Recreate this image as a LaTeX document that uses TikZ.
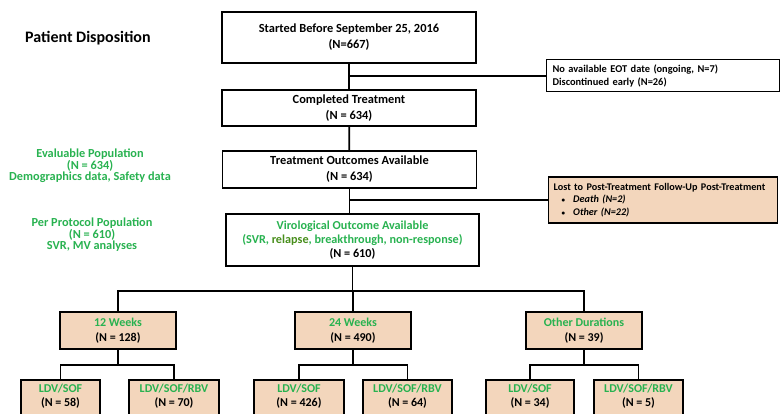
\documentclass[tikz,border=0pt]{standalone}
\usepackage{fontspec}
\setmainfont{Carlito}
\usetikzlibrary{positioning,calc}
\definecolor{cgreen}{RGB}{40,178,80}
\definecolor{cdark}{RGB}{72,142,28}
\definecolor{ctan}{RGB}{243,214,188}

\begin{document}
\begin{tikzpicture}[x=1pt,y=-1pt,line width=1.8pt,
  main/.style={draw,line width=1.8pt,minimum width=254pt,minimum height=37pt,inner sep=0pt,align=center,font=\fontsize{12.4}{16}\selectfont\bfseries},
  grp/.style={draw,fill=ctan,line width=1.8pt,minimum width=116pt,minimum height=37pt,inner sep=0pt,align=center,font=\fontsize{12}{15}\selectfont\bfseries},
  arm/.style={draw,fill=ctan,line width=1.8pt,anchor=north,inner xsep=0pt,inner ysep=4pt,text depth=24pt,align=center,font=\fontsize{12}{14}\selectfont\bfseries},
  note/.style={draw,anchor=west,inner xsep=6pt,inner ysep=0pt,align=left,font=\fontsize{10.4}{12.5}\selectfont\bfseries},
  pop/.style={text=cgreen,align=center,font=\fontsize{12.3}{11.5}\selectfont\bfseries}]
  \useasboundingbox (0,0) rectangle (780,414);
  \clip (0,0) rectangle (780,414);
  % title and analysis populations
  \node[anchor=west,font=\fontsize{16}{18}\selectfont\bfseries] (title) at (21,38) {Patient Disposition};
  \node[pop] (evalpop) at (90,166) {Evaluable Population\\(N = 634)\\Demographics data, Safety data};
  \node[pop] (pppop) at (92,235) {Per Protocol Population\\(N = 610)\\SVR, MV analyses};
  % main column
  \node[main,minimum height=51pt] (start) at (349,37.5) {Started Before September 25, 2016\\(N=667)};
  \node[main,minimum height=36pt] (compl) at (349,108) {Completed Treatment\\(N = 634)};
  \node[main] (outc) at (349.5,169.5) {Treatment Outcomes Available\\(N = 634)};
  \node[main,minimum width=253pt,minimum height=52pt,font=\fontsize{12.2}{14}\selectfont\bfseries] (viro) at (352.5,240)
    {\textcolor{cgreen}{Virological Outcome Available}\\\textcolor{cgreen}{(SVR, \textcolor{cdark}{relapse}, breakthrough, non-response)}\\(N = 610)};
  % exclusions
  \node[note,line width=1pt,text width=221pt,minimum height=32pt] (eot) at (546,76)
    {No available EOT date (ongoing, N=7)\\Discontinued early (N=26)};
  \node[note,fill=ctan,line width=1.4pt,inner xsep=5pt,text width=219pt,minimum height=46pt,font=\fontsize{10.2}{12.5}\selectfont\bfseries] (lost) at (548,200)
    {Lost to Post-Treatment Follow-Up Post-Treatment\\
     \hspace*{8pt}{\fontsize{7}{7}\selectfont\textbullet}\hspace{8pt}\textit{Death (N=2)}\\
     \hspace*{8pt}{\fontsize{7}{7}\selectfont\textbullet}\hspace{8pt}\textit{Other (N=22)}};
  % durations
  \node[grp] (g12) at (118,330.5) {\textcolor{cgreen}{12 Weeks}\\(N = 128)};
  \node[grp] (g24) at (353,330.5) {\textcolor{cgreen}{24 Weeks}\\(N = 490)};
  \node[grp] (goth) at (584,330.5) {\textcolor{cgreen}{Other Durations}\\(N = 39)};
  % regimens
  \node[arm,minimum width=79pt] (a1) at (60.5,379) {\textcolor{cgreen}{LDV/SOF}\\(N = 58)};
  \node[arm,minimum width=90pt] (a2) at (174,379) {\textcolor{cgreen}{LDV/SOF/RBV}\\(N = 70)};
  \node[arm,minimum width=90pt] (a3) at (299,379) {\textcolor{cgreen}{LDV/SOF}\\(N = 426)};
  \node[arm,minimum width=89pt] (a4) at (407.5,379) {\textcolor{cgreen}{LDV/SOF/RBV}\\(N = 64)};
  \node[arm,minimum width=88pt] (a5) at (530,379) {\textcolor{cgreen}{LDV/SOF}\\(N = 34)};
  \node[arm,minimum width=89pt] (a6) at (638.5,379) {\textcolor{cgreen}{LDV/SOF/RBV}\\(N = 5)};
  % connectors
  \coordinate (eotfork) at (start.south |- eot.west);
  \coordinate (lostfork) at (outc.south |- lost.west);
  \coordinate (split) at ($(viro.south)+(0,24)$);
  \draw (start) -- (compl);
  \draw (eotfork) -- (eot);
  \draw (compl) -- (outc);
  \draw (outc.south) -- (outc.south |- viro.north);
  \draw (lostfork) -- (lost);
  \draw (viro) -- (split);
  \foreach \g in {g12,g24,goth}
    \draw (split) -| (\g);
  \foreach \g/\a/\b in {g12/a1/a2,g24/a3/a4,goth/a5/a6}{
    \coordinate (\g-fork) at ($(\g.south)+(0,15)$);
    \draw (\g) -- (\g-fork);
    \draw (\g-fork) -| (\a);
    \draw (\g-fork) -| (\b);
  }
\end{tikzpicture}
\end{document}
